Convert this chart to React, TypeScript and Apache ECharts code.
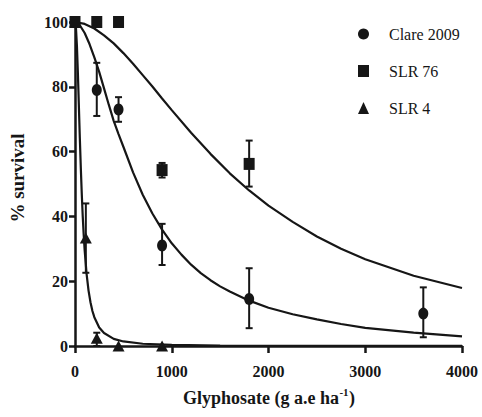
import React, { useEffect, useRef } from "react";
import * as echarts from "echarts";

// Observed data points (dose, % survival, error low, error high)
const clareX = [0, 225, 450, 900, 1800, 3600];
const clareY = [100, 79, 73, 31, 14.5, 10];
const clareLo = [100, 71, 69.2, 25, 5.5, 2.7];
const clareHi = [100, 87.4, 76.8, 37.7, 24, 18.1];

const slr76X = [0, 225, 450, 900, 1800];
const slr76Y = [100, 100, 100, 54.3, 56.2];
const slr76Lo = [100, 100, 100, 52, 49.2];
const slr76Hi = [100, 100, 100, 56.5, 63.4];

const slr4X = [0, 112, 225, 450, 900];
const slr4Y = [100, 33.3, 2.4, 0, 0];
const slr4Lo = [100, 22.6, 0, 0, 0];
const slr4Hi = [100, 44, 4.1, 0, 0];

// Fitted curves
const clareCurveX = [0, 50, 100, 150, 200, 250, 300, 350, 400, 450, 500, 600, 700, 800, 900, 1000, 1100, 1200, 1300, 1400, 1500, 1600, 1800, 2000, 2250, 2500, 2750, 3000, 3500, 4000];
const clareCurveY = [100, 99.0, 96.6, 93.2, 89.1, 84.6, 79.5, 74.4, 69.5, 65.4, 61.5, 53.6, 46.7, 40.9, 35.9, 31.7, 28.2, 25.1, 22.5, 20.3, 18.4, 16.8, 14.0, 11.8, 9.8, 8.2, 6.8, 5.6, 4.1, 3.0];

const slr76CurveX = [0, 100, 200, 300, 400, 500, 600, 700, 800, 900, 1000, 1200, 1400, 1600, 1800, 2000, 2250, 2500, 2750, 3000, 3500, 4000];
const slr76CurveY = [100, 99.4, 98.0, 95.9, 93.4, 90.4, 87.1, 83.6, 80.1, 76.4, 72.8, 65.8, 59.3, 53.3, 48.0, 43.3, 38.3, 33.8, 30.0, 26.8, 21.7, 17.9];

const slr4CurveX = [0, 10, 20, 30, 40, 50, 60, 70, 80, 90, 100, 120, 140, 160, 180, 200, 250, 300, 400, 500, 700, 1000, 1500, 2000, 3000, 4000];
const slr4CurveY = [100, 98.1, 92.5, 84.0, 74.1, 64.1, 55.0, 46.9, 40.0, 34.3, 29.5, 22.2, 17.1, 13.5, 10.8, 8.9, 5.7, 4.0, 2.2, 1.4, 0.7, 0.33, 0.14, 0.08, 0.03, 0.02];

const xTicks = [0, 1000, 2000, 3000, 4000];
const yTicks = [0, 20, 40, 60, 80, 100];
const xTitleParts = ["Glyphosate (g a.e ha", "-1", ")"];
const yTitle = "% survival";

const INK = "#161616";
const FONT = "Liberation Serif";

const zip = (a: number[], b: number[]) => a.map((v, i) => [v, b[i]]);
const zip3 = (a: number[], b: number[], c: number[]) => a.map((v, i) => [v, b[i], c[i]]);

function errorSeries(data: number[][]) {
  return {
    type: "custom",
    silent: true,
    clip: false,
    z: 3,
    encode: { x: 0, y: [1, 2] },
    data,
    renderItem: (params: any, api: any) => {
      const x = api.value(0);
      const lo = api.value(1);
      const hi = api.value(2);
      if (hi - lo < 0.05) return { type: "group", children: [] };
      const top = api.coord([x, hi]);
      const bot = api.coord([x, lo]);
      const w = 3.5;
      const style = { stroke: INK, lineWidth: 2 };
      return {
        type: "group",
        children: [
          { type: "line", shape: { x1: top[0], y1: top[1], x2: bot[0], y2: bot[1] }, style },
          { type: "line", shape: { x1: top[0] - w, y1: top[1], x2: top[0] + w, y2: top[1] }, style },
          { type: "line", shape: { x1: bot[0] - w, y1: bot[1], x2: bot[0] + w, y2: bot[1] }, style },
        ],
      };
    },
  };
}

function curveSeries(name: string, xs: number[], ys: number[]) {
  return {
    name,
    type: "line",
    data: zip(xs, ys),
    showSymbol: false,
    symbol: "none",
    smooth: false,
    clip: false,
    lineStyle: { color: INK, width: 2.2 },
    z: 2,
    silent: true,
  };
}

function baseOption() {
  return {
    animation: false,
    backgroundColor: "#ffffff",
    textStyle: { fontFamily: FONT },
    grid: { left: 74, right: 20, top: 22, bottom: 71, containLabel: false },
    legend: {
      orient: "vertical",
      left: 353,
      top: 21,
      itemWidth: 11,
      itemHeight: 12,
      itemGap: 21,
      data: [
        { name: "Clare 2009", icon: "circle", itemStyle: { color: INK, opacity: 1 } },
        { name: "SLR 76", icon: "rect", itemStyle: { color: INK, opacity: 1 } },
        { name: "SLR 4", icon: "triangle", itemStyle: { color: INK, opacity: 1 } },
      ],
      textStyle: { fontFamily: FONT, fontSize: 16, color: INK, padding: [0, 0, 0, 15], lineHeight: 16 },
      selectedMode: false,
    },
    xAxis: {
      type: "value",
      min: 0,
      max: 4000,
      interval: 1000,
      splitLine: { show: false },
      axisLine: { onZero: false, lineStyle: { color: INK, width: 2.5 } },
      axisTick: { length: 7, lineStyle: { color: INK, width: 2.5 } },
      axisLabel: { show: false },
    },
    yAxis: {
      type: "value",
      min: 0,
      max: 100,
      interval: 20,
      splitLine: { show: false },
      axisLine: { show: true, onZero: false, lineStyle: { color: INK, width: 2.5 } },
      axisTick: { show: true, length: 6, lineStyle: { color: INK, width: 2.5 } },
      axisLabel: { show: false },
      name: yTitle,
      nameLocation: "middle",
      nameGap: 48,
      nameTextStyle: { fontFamily: FONT, fontSize: 19, fontWeight: "bold", color: INK, padding: [0, 0, 0, 12] },
    },
    series: [
      curveSeries("curve-clare", clareCurveX, clareCurveY),
      curveSeries("curve-slr76", slr76CurveX, slr76CurveY),
      curveSeries("curve-slr4", slr4CurveX, slr4CurveY),
      errorSeries(zip3(clareX, clareLo, clareHi)),
      errorSeries(zip3(slr76X, slr76Lo, slr76Hi)),
      errorSeries(zip3(slr4X, slr4Lo, slr4Hi)),
      {
        name: "SLR 4",
        type: "scatter",
        symbol: "triangle",
        symbolSize: [12, 11],
        data: zip(slr4X, slr4Y),
        itemStyle: { color: INK, opacity: 1 },
        clip: false,
        z: 4,
      },
      {
        name: "Clare 2009",
        type: "scatter",
        symbol: "circle",
        symbolSize: [10, 12],
        data: zip(clareX, clareY),
        itemStyle: { color: INK, opacity: 1 },
        clip: false,
        z: 4,
      },
      {
        name: "SLR 76",
        type: "scatter",
        symbol: "rect",
        symbolSize: [11, 12],
        data: zip(slr76X, slr76Y),
        itemStyle: { color: INK, opacity: 1 },
        clip: false,
        z: 5,
      },
    ],
  };
}

function drawChart(chart: any) {
  chart.clear();
  chart.setOption(baseOption());
  const axisY = chart.convertToPixel({ yAxisIndex: 0 }, 0) as number;
  const axisX = chart.convertToPixel({ xAxisIndex: 0 }, 0) as number;
  const xEnd = chart.convertToPixel({ xAxisIndex: 0 }, 4000) as number;
  const tickStyle = { fontFamily: FONT, fontSize: 16, fontWeight: "bold", fill: INK };
  const graphics: any[] = [];
  xTicks.forEach((v) => {
    graphics.push({
      type: "text",
      x: chart.convertToPixel({ xAxisIndex: 0 }, v) as number,
      y: axisY + 17,
      silent: true,
      style: { ...tickStyle, text: String(v), align: "center", verticalAlign: "top" },
    });
  });
  yTicks.forEach((v) => {
    graphics.push({
      type: "text",
      x: axisX - 7,
      y: chart.convertToPixel({ yAxisIndex: 0 }, v) as number,
      silent: true,
      style: { ...tickStyle, text: String(v), align: "right", verticalAlign: "middle" },
    });
  });
  const ctx = document.createElement("canvas").getContext("2d");
  const measure = (t: string, size: number) => {
    if (!ctx) return t.length * size * 0.5;
    ctx.font = `bold ${size}px "${FONT}"`;
    return ctx.measureText(t).width;
  };
  const w1 = measure(xTitleParts[0], 18);
  const w2 = measure(xTitleParts[1], 11);
  const w3 = measure(xTitleParts[2], 18);
  const start = (axisX + xEnd) / 2 - (w1 + w2 + w3) / 2;
  const titleTop = axisY + 43;
  graphics.push(
    { type: "text", x: start, y: titleTop, silent: true, style: { text: xTitleParts[0], fontFamily: FONT, fontSize: 18, fontWeight: "bold", fill: INK, align: "left", verticalAlign: "top" } },
    { type: "text", x: start + w1 + 0.5, y: titleTop - 3, silent: true, style: { text: xTitleParts[1], fontFamily: FONT, fontSize: 11, fontWeight: "bold", fill: INK, align: "left", verticalAlign: "top" } },
    { type: "text", x: start + w1 + w2 + 1, y: titleTop, silent: true, style: { text: xTitleParts[2], fontFamily: FONT, fontSize: 18, fontWeight: "bold", fill: INK, align: "left", verticalAlign: "top" } }
  );
  chart.setOption({ graphic: graphics });
}

export default function App() {
  const ref = useRef<HTMLDivElement>(null);
  useEffect(() => {
    if (!ref.current) return;
    const chart = echarts.init(ref.current, undefined, { renderer: "svg" });
    drawChart(chart);
    let alive = true;
    const fontsApi: any = (document as any).fonts;
    if (fontsApi && fontsApi.load) {
      Promise.all([
        fontsApi.load(`bold 16px "${FONT}"`),
        fontsApi.load(`16px "${FONT}"`),
        fontsApi.load(`bold 18px "${FONT}"`),
      ])
        .then(() => {
          if (alive) drawChart(chart);
        })
        .catch(() => {});
    }
    return () => {
      alive = false;
      chart.dispose();
    };
  }, []);
  return <div ref={ref} style={{ width: 482, height: 417, position: "absolute", left: 0, top: 0 }} />;
}
